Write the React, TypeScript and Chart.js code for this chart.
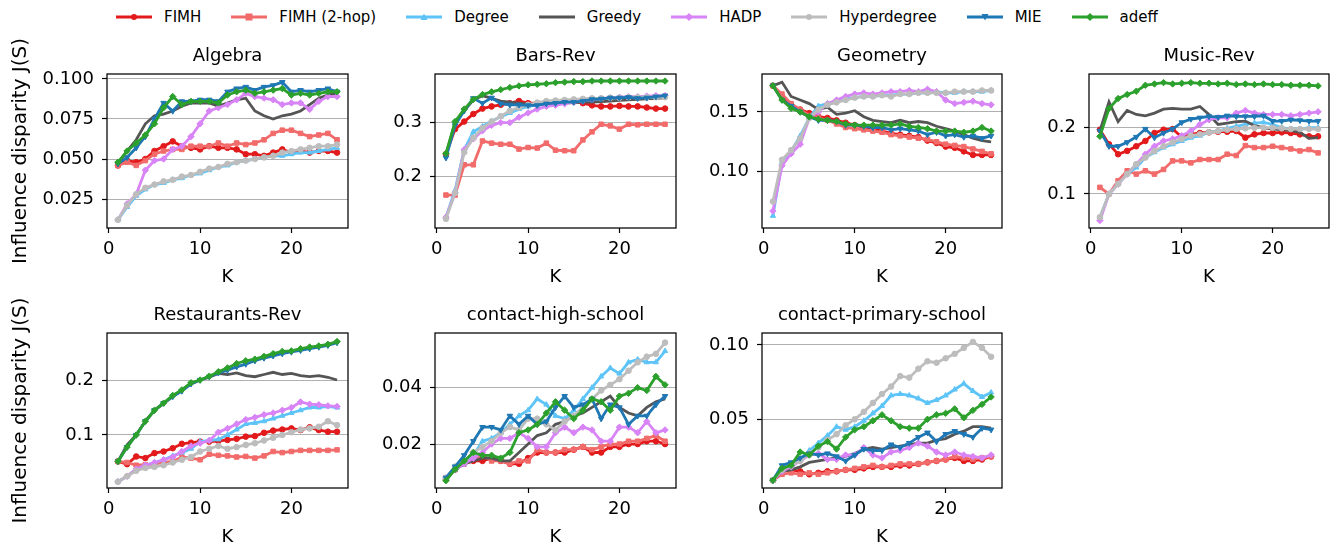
import React, { useEffect, useRef } from 'react';
import { Chart, registerables } from 'chart.js';
Chart.register(...registerables);

const K = [1, 2, 3, 4, 5, 6, 7, 8, 9, 10, 11, 12, 13, 14, 15, 16, 17, 18, 19, 20, 21, 22, 23, 24, 25];
const SERIES = ['FIMH', 'FIMH (2-hop)', 'Degree', 'Greedy', 'HADP', 'Hyperdegree', 'MIE', 'adeff'];
const COLORS = ['#e31a1c', '#f26b6b', '#5ec4f8', '#555555', '#d884f6', '#bdbdbd', '#1f77b4', '#2ca02c'];
const X_TICKS = [0, 10, 20];
const Y_LABEL = 'Influence disparity J(S)';

// Algebra
const algFIMH = [0.046, 0.049, 0.048, 0.050, 0.055, 0.058, 0.061, 0.058, 0.057, 0.056, 0.058, 0.057, 0.057, 0.056, 0.053, 0.053, 0.052, 0.054, 0.056, 0.054, 0.055, 0.054, 0.055, 0.055, 0.054];
const alg2hop = [0.046, 0.048, 0.046, 0.049, 0.053, 0.055, 0.056, 0.056, 0.058, 0.058, 0.058, 0.060, 0.058, 0.060, 0.059, 0.060, 0.062, 0.066, 0.068, 0.068, 0.066, 0.064, 0.065, 0.066, 0.062];
const algDegree = [0.012, 0.020, 0.027, 0.031, 0.034, 0.035, 0.037, 0.038, 0.040, 0.041, 0.043, 0.045, 0.046, 0.048, 0.049, 0.050, 0.051, 0.052, 0.052, 0.053, 0.054, 0.054, 0.055, 0.056, 0.057];
const algGreedy = [0.047, 0.055, 0.062, 0.072, 0.077, 0.078, 0.080, 0.083, 0.085, 0.085, 0.085, 0.083, 0.085, 0.087, 0.088, 0.080, 0.077, 0.075, 0.077, 0.078, 0.080, 0.084, 0.088, 0.090, 0.091];
const algHADP = [0.012, 0.022, 0.028, 0.043, 0.049, 0.050, 0.056, 0.058, 0.064, 0.072, 0.080, 0.082, 0.084, 0.087, 0.091, 0.089, 0.088, 0.087, 0.084, 0.085, 0.085, 0.081, 0.086, 0.089, 0.089];
const algHyper = [0.012, 0.021, 0.028, 0.032, 0.034, 0.036, 0.037, 0.039, 0.040, 0.042, 0.044, 0.045, 0.047, 0.048, 0.049, 0.050, 0.051, 0.052, 0.054, 0.055, 0.056, 0.057, 0.058, 0.058, 0.059];
const algMIE = [0.047, 0.051, 0.057, 0.064, 0.075, 0.085, 0.080, 0.086, 0.086, 0.087, 0.087, 0.086, 0.092, 0.094, 0.095, 0.093, 0.095, 0.096, 0.098, 0.092, 0.093, 0.092, 0.093, 0.094, 0.092];
const algAdeff = [0.048, 0.055, 0.060, 0.065, 0.072, 0.082, 0.089, 0.084, 0.086, 0.086, 0.086, 0.085, 0.090, 0.092, 0.093, 0.091, 0.092, 0.093, 0.094, 0.090, 0.091, 0.090, 0.091, 0.092, 0.092];

// Bars-Rev
const barFIMH = [0.242, 0.288, 0.302, 0.316, 0.326, 0.330, 0.333, 0.336, 0.340, 0.336, 0.336, 0.337, 0.338, 0.338, 0.339, 0.336, 0.332, 0.330, 0.330, 0.331, 0.330, 0.330, 0.328, 0.326, 0.326];
const bar2hop = [0.166, 0.166, 0.222, 0.222, 0.266, 0.262, 0.260, 0.260, 0.251, 0.254, 0.253, 0.262, 0.249, 0.248, 0.248, 0.268, 0.283, 0.297, 0.294, 0.288, 0.297, 0.296, 0.297, 0.297, 0.297];
const barDegree = [0.125, 0.175, 0.250, 0.283, 0.293, 0.303, 0.311, 0.318, 0.325, 0.330, 0.333, 0.335, 0.337, 0.338, 0.340, 0.341, 0.342, 0.343, 0.344, 0.345, 0.345, 0.346, 0.346, 0.347, 0.348];
const barGreedy = [0.240, 0.300, 0.322, 0.342, 0.350, 0.345, 0.340, 0.338, 0.336, 0.334, 0.334, 0.335, 0.336, 0.336, 0.337, 0.338, 0.338, 0.339, 0.340, 0.341, 0.342, 0.343, 0.344, 0.345, 0.346];
const barHADP = [0.125, 0.170, 0.250, 0.270, 0.285, 0.295, 0.300, 0.300, 0.310, 0.318, 0.325, 0.330, 0.332, 0.335, 0.338, 0.340, 0.343, 0.345, 0.346, 0.347, 0.348, 0.348, 0.349, 0.350, 0.350];
const barHyper = [0.122, 0.170, 0.245, 0.272, 0.290, 0.302, 0.312, 0.322, 0.328, 0.333, 0.337, 0.340, 0.341, 0.342, 0.343, 0.344, 0.345, 0.345, 0.346, 0.346, 0.347, 0.347, 0.347, 0.347, 0.347];
const barMIE = [0.235, 0.295, 0.322, 0.345, 0.336, 0.346, 0.335, 0.333, 0.333, 0.332, 0.332, 0.335, 0.336, 0.338, 0.338, 0.340, 0.343, 0.344, 0.346, 0.346, 0.347, 0.345, 0.346, 0.348, 0.350];
const barAdeff = [0.243, 0.302, 0.325, 0.343, 0.352, 0.357, 0.361, 0.365, 0.368, 0.370, 0.371, 0.372, 0.374, 0.375, 0.376, 0.376, 0.377, 0.377, 0.377, 0.377, 0.377, 0.377, 0.377, 0.377, 0.377];

// Geometry
const geoFIMH = [0.172, 0.163, 0.156, 0.152, 0.149, 0.146, 0.145, 0.143, 0.141, 0.139, 0.137, 0.136, 0.134, 0.132, 0.131, 0.130, 0.129, 0.126, 0.124, 0.121, 0.120, 0.117, 0.114, 0.114, 0.114];
const geo2hop = [0.172, 0.165, 0.157, 0.152, 0.147, 0.145, 0.143, 0.140, 0.137, 0.136, 0.135, 0.134, 0.133, 0.131, 0.130, 0.129, 0.128, 0.127, 0.125, 0.123, 0.122, 0.121, 0.119, 0.117, 0.115];
const geoDegree = [0.063, 0.108, 0.117, 0.130, 0.145, 0.155, 0.157, 0.159, 0.161, 0.162, 0.163, 0.163, 0.164, 0.164, 0.165, 0.165, 0.166, 0.166, 0.167, 0.166, 0.166, 0.167, 0.167, 0.167, 0.168];
const geoGreedy = [0.172, 0.175, 0.163, 0.160, 0.157, 0.152, 0.154, 0.148, 0.149, 0.151, 0.146, 0.143, 0.142, 0.141, 0.143, 0.141, 0.142, 0.141, 0.138, 0.136, 0.134, 0.131, 0.128, 0.126, 0.125];
const geoHADP = [0.067, 0.105, 0.115, 0.123, 0.145, 0.150, 0.157, 0.160, 0.163, 0.165, 0.166, 0.165, 0.166, 0.167, 0.167, 0.168, 0.167, 0.169, 0.167, 0.160, 0.157, 0.158, 0.159, 0.157, 0.156];
const geoHyper = [0.075, 0.110, 0.118, 0.128, 0.145, 0.152, 0.156, 0.158, 0.160, 0.162, 0.163, 0.163, 0.164, 0.163, 0.165, 0.165, 0.166, 0.166, 0.166, 0.166, 0.167, 0.167, 0.167, 0.168, 0.168];
const geoMIE = [0.172, 0.160, 0.155, 0.150, 0.146, 0.143, 0.143, 0.142, 0.139, 0.139, 0.138, 0.137, 0.137, 0.135, 0.136, 0.135, 0.134, 0.131, 0.133, 0.130, 0.131, 0.129, 0.130, 0.128, 0.130];
const geoAdeff = [0.172, 0.160, 0.153, 0.150, 0.146, 0.144, 0.143, 0.142, 0.140, 0.139, 0.139, 0.139, 0.139, 0.139, 0.140, 0.138, 0.137, 0.136, 0.134, 0.134, 0.134, 0.133, 0.134, 0.137, 0.134];

// Music-Rev
const musFIMH = [0.197, 0.175, 0.160, 0.165, 0.172, 0.180, 0.192, 0.197, 0.198, 0.186, 0.190, 0.192, 0.193, 0.194, 0.194, 0.195, 0.185, 0.190, 0.192, 0.192, 0.193, 0.192, 0.190, 0.187, 0.187];
const mus2hop = [0.110, 0.100, 0.120, 0.135, 0.130, 0.135, 0.130, 0.137, 0.150, 0.150, 0.147, 0.152, 0.152, 0.152, 0.160, 0.158, 0.173, 0.170, 0.170, 0.172, 0.170, 0.168, 0.165, 0.167, 0.162];
const musDegree = [0.065, 0.100, 0.115, 0.130, 0.140, 0.155, 0.163, 0.170, 0.175, 0.180, 0.185, 0.188, 0.193, 0.195, 0.199, 0.202, 0.205, 0.207, 0.208, 0.205, 0.200, 0.198, 0.198, 0.200, 0.200];
const musGreedy = [0.195, 0.239, 0.209, 0.226, 0.220, 0.218, 0.222, 0.228, 0.229, 0.228, 0.228, 0.232, 0.220, 0.205, 0.207, 0.209, 0.210, 0.203, 0.200, 0.198, 0.197, 0.196, 0.193, 0.184, 0.185];
const musHADP = [0.060, 0.100, 0.115, 0.130, 0.145, 0.160, 0.172, 0.180, 0.183, 0.188, 0.195, 0.205, 0.212, 0.215, 0.215, 0.222, 0.226, 0.222, 0.220, 0.220, 0.220, 0.218, 0.220, 0.222, 0.224];
const musHyper = [0.065, 0.100, 0.115, 0.130, 0.145, 0.155, 0.165, 0.172, 0.178, 0.183, 0.188, 0.190, 0.193, 0.195, 0.197, 0.198, 0.199, 0.200, 0.200, 0.200, 0.199, 0.198, 0.198, 0.198, 0.198];
const musMIE = [0.195, 0.172, 0.172, 0.178, 0.186, 0.198, 0.185, 0.192, 0.198, 0.208, 0.213, 0.215, 0.217, 0.216, 0.218, 0.217, 0.217, 0.217, 0.218, 0.210, 0.210, 0.212, 0.211, 0.210, 0.210];
const musAdeff = [0.187, 0.229, 0.244, 0.250, 0.255, 0.264, 0.266, 0.268, 0.266, 0.267, 0.268, 0.267, 0.267, 0.266, 0.267, 0.265, 0.266, 0.265, 0.266, 0.265, 0.265, 0.264, 0.264, 0.264, 0.263];

// Restaurants-Rev
const resFIMH = [0.052, 0.047, 0.061, 0.058, 0.067, 0.070, 0.076, 0.084, 0.086, 0.088, 0.088, 0.089, 0.091, 0.093, 0.097, 0.098, 0.104, 0.108, 0.110, 0.112, 0.109, 0.114, 0.109, 0.106, 0.106];
const res2hop = [0.052, 0.050, 0.045, 0.046, 0.047, 0.050, 0.052, 0.060, 0.058, 0.055, 0.065, 0.063, 0.062, 0.060, 0.061, 0.058, 0.062, 0.070, 0.068, 0.070, 0.072, 0.072, 0.072, 0.072, 0.073];
const resDegree = [0.015, 0.025, 0.038, 0.045, 0.050, 0.055, 0.062, 0.068, 0.075, 0.088, 0.090, 0.092, 0.100, 0.110, 0.120, 0.122, 0.125, 0.130, 0.135, 0.140, 0.145, 0.150, 0.150, 0.152, 0.150];
const resGreedy = [0.052, 0.082, 0.100, 0.125, 0.145, 0.157, 0.170, 0.182, 0.193, 0.200, 0.205, 0.212, 0.210, 0.213, 0.208, 0.206, 0.210, 0.214, 0.210, 0.212, 0.208, 0.206, 0.208, 0.205, 0.200];
const resHADP = [0.015, 0.025, 0.038, 0.045, 0.050, 0.055, 0.060, 0.070, 0.080, 0.085, 0.090, 0.105, 0.112, 0.120, 0.128, 0.132, 0.137, 0.140, 0.145, 0.150, 0.160, 0.156, 0.155, 0.153, 0.152];
const resHyper = [0.015, 0.025, 0.035, 0.040, 0.042, 0.045, 0.050, 0.055, 0.060, 0.070, 0.075, 0.080, 0.075, 0.078, 0.082, 0.085, 0.090, 0.095, 0.100, 0.105, 0.110, 0.112, 0.115, 0.125, 0.118];
const resMIE = [0.052, 0.078, 0.100, 0.125, 0.145, 0.158, 0.170, 0.180, 0.193, 0.200, 0.206, 0.213, 0.218, 0.224, 0.229, 0.235, 0.240, 0.244, 0.248, 0.251, 0.254, 0.257, 0.260, 0.263, 0.268];
const resAdeff = [0.052, 0.078, 0.100, 0.125, 0.145, 0.158, 0.172, 0.182, 0.195, 0.200, 0.207, 0.215, 0.222, 0.230, 0.235, 0.238, 0.243, 0.248, 0.252, 0.253, 0.257, 0.260, 0.262, 0.265, 0.270];

// contact-high-school
const hsFIMH = [0.0075, 0.011, 0.013, 0.014, 0.014, 0.015, 0.014, 0.013, 0.013, 0.015, 0.017, 0.017, 0.017, 0.017, 0.018, 0.019, 0.017, 0.017, 0.019, 0.019, 0.020, 0.020, 0.021, 0.021, 0.020];
const hs2hop = [0.008, 0.011, 0.013, 0.015, 0.016, 0.014, 0.014, 0.013, 0.014, 0.014, 0.018, 0.017, 0.017, 0.018, 0.018, 0.019, 0.018, 0.019, 0.020, 0.020, 0.021, 0.021, 0.022, 0.023, 0.021];
const hsDegree = [0.008, 0.011, 0.013, 0.016, 0.021, 0.022, 0.024, 0.027, 0.030, 0.032, 0.036, 0.034, 0.030, 0.029, 0.032, 0.036, 0.040, 0.044, 0.047, 0.045, 0.049, 0.050, 0.049, 0.049, 0.053];
const hsGreedy = [0.008, 0.011, 0.013, 0.014, 0.015, 0.015, 0.014, 0.014, 0.017, 0.020, 0.023, 0.024, 0.027, 0.028, 0.030, 0.031, 0.033, 0.035, 0.037, 0.033, 0.031, 0.030, 0.033, 0.035, 0.036];
const hsHADP = [0.008, 0.011, 0.013, 0.015, 0.017, 0.020, 0.022, 0.022, 0.024, 0.022, 0.019, 0.019, 0.024, 0.026, 0.024, 0.026, 0.025, 0.021, 0.021, 0.026, 0.026, 0.024, 0.028, 0.024, 0.025];
const hsHyper = [0.008, 0.012, 0.014, 0.017, 0.019, 0.021, 0.024, 0.026, 0.025, 0.029, 0.029, 0.027, 0.025, 0.028, 0.030, 0.033, 0.036, 0.039, 0.041, 0.043, 0.046, 0.049, 0.051, 0.052, 0.056];
const hsMIE = [0.008, 0.012, 0.016, 0.021, 0.026, 0.026, 0.025, 0.030, 0.027, 0.030, 0.027, 0.028, 0.033, 0.037, 0.033, 0.034, 0.036, 0.029, 0.034, 0.033, 0.027, 0.030, 0.030, 0.034, 0.037];
const hsAdeff = [0.007, 0.011, 0.014, 0.017, 0.016, 0.016, 0.015, 0.017, 0.024, 0.025, 0.027, 0.031, 0.035, 0.032, 0.029, 0.032, 0.036, 0.035, 0.032, 0.037, 0.038, 0.040, 0.039, 0.044, 0.041];

// contact-primary-school
const psFIMH = [0.009, 0.015, 0.016, 0.015, 0.013, 0.014, 0.015, 0.015, 0.016, 0.016, 0.017, 0.018, 0.018, 0.018, 0.019, 0.019, 0.020, 0.021, 0.022, 0.023, 0.024, 0.022, 0.022, 0.023, 0.025];
const ps2hop = [0.009, 0.013, 0.014, 0.013, 0.014, 0.013, 0.014, 0.015, 0.016, 0.017, 0.018, 0.019, 0.018, 0.019, 0.020, 0.020, 0.020, 0.021, 0.022, 0.023, 0.025, 0.024, 0.023, 0.024, 0.025];
const psDegree = [0.009, 0.017, 0.019, 0.023, 0.029, 0.034, 0.039, 0.045, 0.043, 0.045, 0.049, 0.054, 0.059, 0.066, 0.067, 0.066, 0.064, 0.061, 0.063, 0.066, 0.070, 0.074, 0.069, 0.065, 0.068];
const psGreedy = [0.009, 0.015, 0.016, 0.018, 0.021, 0.022, 0.023, 0.024, 0.025, 0.027, 0.030, 0.031, 0.030, 0.031, 0.032, 0.033, 0.034, 0.034, 0.036, 0.037, 0.040, 0.042, 0.045, 0.045, 0.044];
const psHADP = [0.009, 0.015, 0.018, 0.022, 0.026, 0.027, 0.023, 0.023, 0.026, 0.026, 0.031, 0.026, 0.024, 0.028, 0.029, 0.031, 0.034, 0.032, 0.028, 0.026, 0.028, 0.026, 0.025, 0.024, 0.026];
const psHyper = [0.009, 0.016, 0.019, 0.022, 0.027, 0.031, 0.036, 0.040, 0.046, 0.050, 0.055, 0.061, 0.067, 0.072, 0.079, 0.078, 0.084, 0.089, 0.088, 0.091, 0.094, 0.098, 0.102, 0.098, 0.092];
const psMIE = [0.009, 0.019, 0.021, 0.024, 0.027, 0.026, 0.027, 0.025, 0.022, 0.026, 0.030, 0.029, 0.029, 0.033, 0.031, 0.034, 0.038, 0.041, 0.035, 0.040, 0.042, 0.040, 0.038, 0.044, 0.043];
const psAdeff = [0.009, 0.017, 0.019, 0.028, 0.026, 0.032, 0.035, 0.030, 0.038, 0.043, 0.045, 0.049, 0.053, 0.049, 0.045, 0.044, 0.044, 0.050, 0.053, 0.054, 0.057, 0.051, 0.056, 0.060, 0.065];

// y tick labels per panel
const algTicks = ['0.025', '0.050', '0.075', '0.100'];
const barTicks = ['0.2', '0.3'];
const geoTicks = ['0.10', '0.15'];
const musTicks = ['0.1', '0.2'];
const resTicks = ['0.1', '0.2'];
const hsTicks = ['0.02', '0.04'];
const psTicks = ['0.05', '0.10'];

const FONT = 'DejaVu Sans';
const MARKERS = [
  { style: 'circle', r: 2.8, rot: 0 },
  { style: 'rect', r: 3.2, rot: 0 },
  { style: 'triangle', r: 3, rot: 0 },
  { style: 'circle', r: 0, rot: 0 },
  { style: 'rectRot', r: 3.2, rot: 0 },
  { style: 'circle', r: 2.8, rot: 0 },
  { style: 'triangle', r: 3.2, rot: 180 },
  { style: 'rectRot', r: 3.2, rot: 0 },
];

const PANELS = [
  { title: 'Algebra', data: [algFIMH, alg2hop, algDegree, algGreedy, algHADP, algHyper, algMIE, algAdeff], ticks: algTicks, ymin: 0.0069, ymax: 0.1031, left: 107, top: 74, w: 241, h: 154, first: true },
  { title: 'Bars-Rev', data: [barFIMH, bar2hop, barDegree, barGreedy, barHADP, barHyper, barMIE, barAdeff], ticks: barTicks, ymin: 0.105, ymax: 0.390, left: 435, top: 74, w: 241, h: 154, first: false },
  { title: 'Geometry', data: [geoFIMH, geo2hop, geoDegree, geoGreedy, geoHADP, geoHyper, geoMIE, geoAdeff], ticks: geoTicks, ymin: 0.0528, ymax: 0.1818, left: 762, top: 74, w: 240, h: 154, first: false },
  { title: 'Music-Rev', data: [musFIMH, mus2hop, musDegree, musGreedy, musHADP, musHyper, musMIE, musAdeff], ticks: musTicks, ymin: 0.0487, ymax: 0.281, left: 1089, top: 74, w: 240, h: 154, first: false },
  { title: 'Restaurants-Rev', data: [resFIMH, res2hop, resDegree, resGreedy, resHADP, resHyper, resMIE, resAdeff], ticks: resTicks, ymin: 0.0036, ymax: 0.2855, left: 107, top: 333, w: 241, h: 155, first: true },
  { title: 'contact-high-school', data: [hsFIMH, hs2hop, hsDegree, hsGreedy, hsHADP, hsHyper, hsMIE, hsAdeff], ticks: hsTicks, ymin: 0.0044, ymax: 0.0594, left: 435, top: 333, w: 241, h: 155, first: false },
  { title: 'contact-primary-school', data: [psFIMH, ps2hop, psDegree, psGreedy, psHADP, psHyper, psMIE, psAdeff], ticks: psTicks, ymin: 0.0038, ymax: 0.108, left: 762, top: 333, w: 240, h: 155, first: false },
];

const TITLE_BLOCK = 28;
const EXTRA_TOP_FIRST = 20;
const X_AXIS_H = 62;
const RIGHT_PAD = 6;

const boxPlugin = {
  id: 'axbox',
  afterDatasetsDraw(chart: any) {
    const { ctx, chartArea } = chart;
    ctx.save();
    ctx.strokeStyle = '#000';
    ctx.lineWidth = 1.25;
    ctx.strokeRect(chartArea.left, chartArea.top, chartArea.right - chartArea.left, chartArea.bottom - chartArea.top);
    ctx.restore();
  },
};

const yLabelPlugin = {
  id: 'ylabel',
  afterDraw(chart: any, _args: any, opts: any) {
    if (!opts || !opts.show) return;
    const { ctx, chartArea } = chart;
    ctx.save();
    ctx.translate(opts.x, (chartArea.top + chartArea.bottom) / 2);
    ctx.rotate(-Math.PI / 2);
    ctx.font = `20px "${FONT}"`;
    ctx.fillStyle = '#000';
    ctx.textAlign = 'center';
    ctx.textBaseline = 'middle';
    ctx.fillText(opts.text, 0, 0);
    ctx.restore();
  },
};

function Panel({ p }: { p: any }) {
  const ref = useRef<HTMLCanvasElement>(null);
  const yW = p.first ? p.left : 70;
  const extra = p.first ? EXTRA_TOP_FIRST : 0;
  const cLeft = p.left - yW;
  const cTop = p.top - TITLE_BLOCK - extra;
  const cW = yW + p.w + RIGHT_PAD;
  const cH = TITLE_BLOCK + extra + p.h + X_AXIS_H;
  useEffect(() => {
    const datasets = SERIES.map((name, i) => ({
      label: name,
      data: K.map((k, j) => ({ x: k, y: p.data[i][j] })),
      borderColor: COLORS[i],
      backgroundColor: COLORS[i],
      borderWidth: 2.8,
      pointStyle: MARKERS[i].style,
      pointRadius: MARKERS[i].r,
      pointRotation: MARKERS[i].rot,
      pointBorderWidth: 1,
      pointBackgroundColor: COLORS[i],
      pointBorderColor: COLORS[i],
      tension: 0,
      order: 7 - i,
    }));
    const tickVals = p.ticks.map((t: string) => parseFloat(t));
    const chart = new Chart(ref.current as HTMLCanvasElement, {
      type: 'line',
      data: { datasets },
      options: {
        animation: false,
        responsive: false,
        maintainAspectRatio: false,
        layout: { padding: { left: 0, right: RIGHT_PAD, top: 0, bottom: 0 } },
        plugins: {
          legend: { display: false },
          tooltip: { enabled: false },
          title: {
            display: true,
            fullSize: false,
            text: p.title,
            color: '#000',
            font: { family: FONT, size: 18, weight: 'normal', lineHeight: 1.2 },
            padding: { top: extra, bottom: 6.4 },
          },
          ylabel: { show: p.first, text: Y_LABEL, x: 21 },
        },
        scales: {
          x: {
            type: 'linear',
            min: -0.2,
            max: 26.2,
            afterBuildTicks: (s: any) => { s.ticks = X_TICKS.map((v) => ({ value: v })); },
            afterFit: (s: any) => { s.height = X_AXIS_H; },
            grid: { display: true, drawOnChartArea: false, drawTicks: true, tickLength: 5, tickColor: '#000', tickWidth: 1.2 },
            border: { display: false },
            ticks: {
              color: '#000',
              padding: 6,
              maxRotation: 0,
              autoSkip: false,
              font: { family: FONT, size: 18, lineHeight: 1.2 },
              callback: (v: any) => String(v),
            },
            title: {
              display: true,
              text: 'K',
              color: '#000',
              font: { family: FONT, size: 18, lineHeight: 1.2 },
              padding: { top: 0, bottom: 2 },
            },
          },
          y: {
            type: 'linear',
            min: p.ymin,
            max: p.ymax,
            afterBuildTicks: (s: any) => { s.ticks = tickVals.map((v: number) => ({ value: v })); },
            afterFit: (s: any) => { s.width = yW; },
            grid: { display: true, drawOnChartArea: true, drawTicks: true, tickLength: 5, color: '#b0b0b0', lineWidth: 1, tickColor: '#000', tickWidth: 1.2 },
            border: { display: false },
            ticks: {
              color: '#000',
              padding: 8,
              autoSkip: false,
              font: { family: FONT, size: 18, lineHeight: 1.2 },
              callback: (v: any) => {
                const idx = tickVals.indexOf(v);
                return idx >= 0 ? p.ticks[idx] : '';
              },
            },
          },
        },
      },
      plugins: [boxPlugin, yLabelPlugin],
    } as any);
    return () => chart.destroy();
  }, []);
  return (
    <canvas
      ref={ref}
      width={cW}
      height={cH}
      style={{ position: 'absolute', left: cLeft, top: cTop, width: cW, height: cH }}
    />
  );
}

function LegendIcon({ i }: { i: number }) {
  const c = COLORS[i];
  const m = MARKERS[i];
  let marker: any = null;
  if (m.r > 0) {
    if (m.style === 'circle') marker = <circle cx={18} cy={7} r={3} fill={c} />;
    else if (m.style === 'rect') marker = <rect x={14.5} y={3.5} width={7} height={7} fill={c} />;
    else if (m.style === 'rectRot') marker = <polygon points="18,3 22,7 18,11 14,7" fill={c} />;
    else if (m.style === 'triangle' && m.rot === 180) marker = <polygon points="14.5,4 21.5,4 18,10.5" fill={c} />;
    else marker = <polygon points="14.5,10 21.5,10 18,3.5" fill={c} />;
  }
  return (
    <svg width={36} height={14} style={{ display: 'block' }}>
      <line x1={0} y1={7} x2={36} y2={7} stroke={c} strokeWidth={2.8} />
      {marker}
    </svg>
  );
}

export default function App() {
  return (
    <div style={{ position: 'absolute', left: 0, top: 0, width: 1343, height: 548, background: '#fff', fontFamily: FONT }}>
      <div style={{ position: 'absolute', left: 116, top: 8, height: 18, display: 'flex', alignItems: 'center' }}>
        {SERIES.map((s, i) => (
          <div key={s} style={{ display: 'flex', alignItems: 'center', marginRight: 30 }}>
            <LegendIcon i={i} />
            <span style={{ marginLeft: 12, fontSize: 15, color: '#000', whiteSpace: 'nowrap' }}>{s}</span>
          </div>
        ))}
      </div>
      {PANELS.map((p) => (
        <Panel key={p.title} p={p} />
      ))}
    </div>
  );
}
